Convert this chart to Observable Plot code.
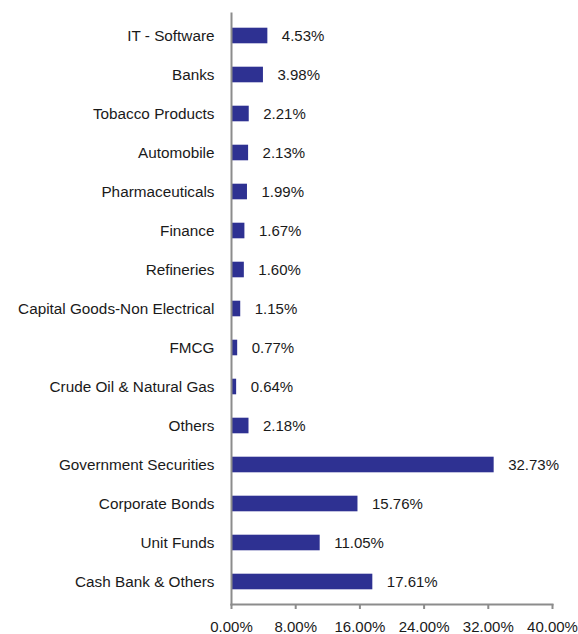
<!DOCTYPE html>
<html>
<head>
<meta charset="utf-8">
<script src="https://cdn.jsdelivr.net/npm/d3@7"></script>
<script src="https://cdn.jsdelivr.net/npm/@observablehq/plot@0.6"></script>
<style>
  html, body { margin: 0; padding: 0; background: #fff; }
  #chart { width: 578px; height: 634px; }
</style>
</head>
<body>
<div id="chart"></div>
<script>
const categories = [
  "IT - Software", "Banks", "Tobacco Products", "Automobile", "Pharmaceuticals",
  "Finance", "Refineries", "Capital Goods-Non Electrical", "FMCG",
  "Crude Oil & Natural Gas", "Others", "Government Securities",
  "Corporate Bonds", "Unit Funds", "Cash Bank & Others"
];
const values = [4.53, 3.98, 2.21, 2.13, 1.99, 1.67, 1.60, 1.15, 0.77, 0.64, 2.18, 32.73, 15.76, 11.05, 17.61];
const xTicks = [0, 8, 16, 24, 32, 40];

const data = categories.map((c, i) => ({category: c, value: values[i]}));
const fmt = v => v.toFixed(2) + "%";

const chart = Plot.plot({
  width: 578,
  height: 634,
  marginLeft: 231,
  marginRight: 26,
  marginTop: 13,
  marginBottom: 30,
  style: {fontFamily: "'Liberation Sans', Arial, sans-serif", fontSize: "15px", color: "#1a1a1a", background: "#fff"},
  x: {domain: [0, 40], ticks: xTicks},
  y: {domain: categories, padding: 0},
  marks: [
    Plot.barX(data, {x: "value", y: "category", fill: "#2e3192", insetTop: 11.7, insetBottom: 11.7}),
    Plot.text(data, {x: "value", y: "category", text: d => fmt(d.value), textAnchor: "start", dx: 14, fontSize: 15, fill: "#1a1a1a"}),
    Plot.frame({anchor: "left", stroke: "#8c8c8c", strokeWidth: 2}),
    Plot.frame({anchor: "bottom", stroke: "#8c8c8c", strokeWidth: 2}),
    Plot.axisX({ticks: xTicks, tickFormat: fmt, tickSize: 5, tickPadding: 12, stroke: "#8c8c8c", strokeWidth: 2, fontSize: 15, label: null}),
    Plot.axisY({tickSize: 0, tickPadding: 17, fontSize: 15.3, label: null})
  ]
});
document.getElementById("chart").appendChild(chart);
</script>
</body>
</html>
